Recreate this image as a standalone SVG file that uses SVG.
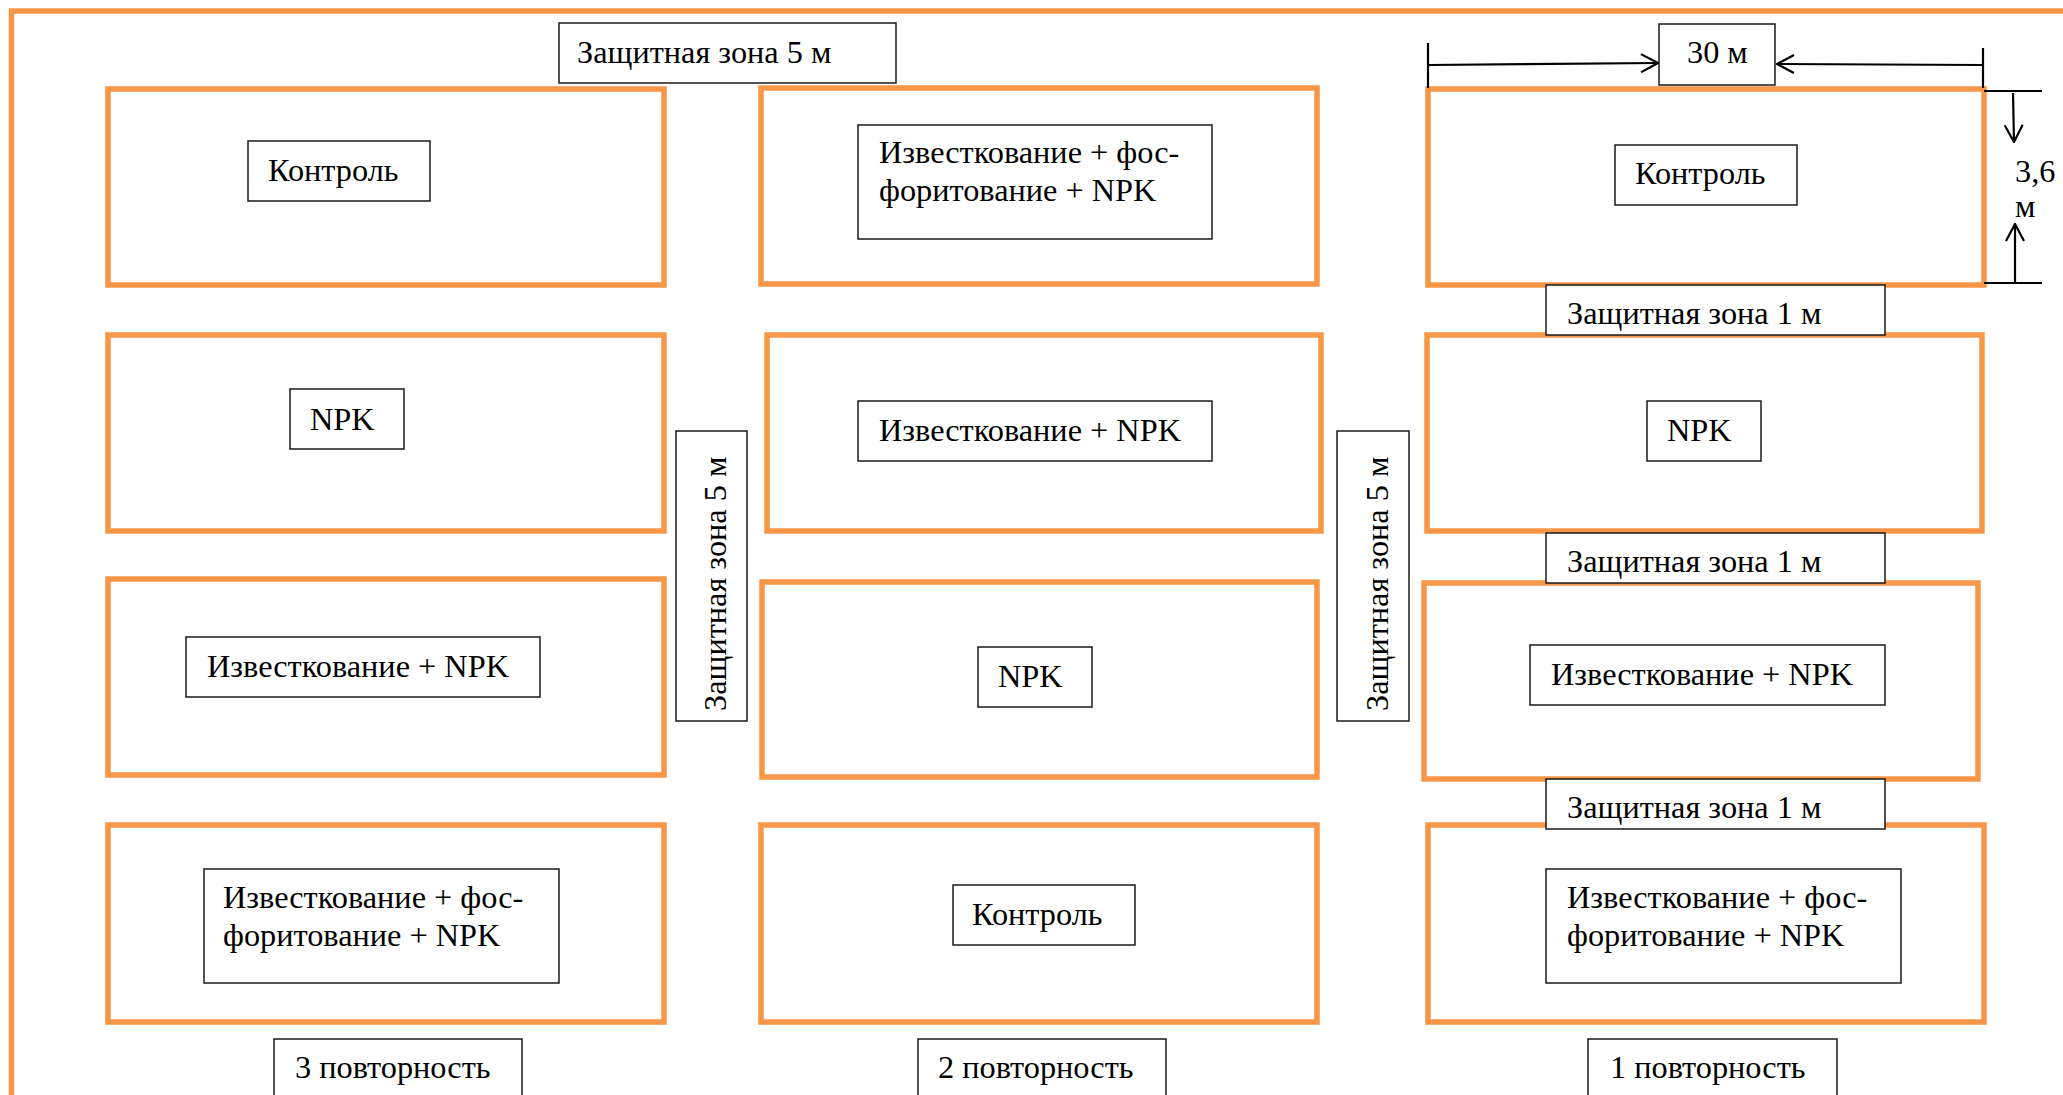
<svg xmlns="http://www.w3.org/2000/svg" width="2063" height="1095" viewBox="0 0 2063 1095">
<style>
.plot{fill:none;stroke:#F79646;stroke-width:5.5}
.box{fill:#fff;stroke:#1a1a1a;stroke-width:1.5}
text{font-family:"Liberation Serif","Times New Roman",serif;font-size:32.3px;fill:#000}
.dim{stroke:#000;stroke-width:2.2;fill:none}
</style>
<defs>
<marker id="arr" viewBox="0 0 20 20" refX="19" refY="10" markerWidth="20" markerHeight="20" markerUnits="userSpaceOnUse" orient="auto">
<path d="M2,1 L19,10 L2,19" fill="none" stroke="#000" stroke-width="2.2"/>
</marker>
</defs>
<rect width="2063" height="1095" fill="#fff"/>
<rect id="frame" x="11.5" y="11" width="2100" height="1200" class="plot"/>

<!-- Column 3 -->
<g id="p3-1"><rect x="108" y="89" width="556" height="196" class="plot"/><rect x="248" y="141" width="182" height="60" class="box"/><text x="268" y="181">Контроль</text></g>
<g id="p3-2"><rect x="108" y="335" width="556" height="196" class="plot"/><rect x="290" y="389" width="114" height="60" class="box"/><text x="310" y="430">NPK</text></g>
<g id="p3-3"><rect x="108" y="579" width="556" height="196" class="plot"/><rect x="186" y="637" width="354" height="60" class="box"/><text x="207" y="677">Известкование + NPK</text></g>
<g id="p3-4"><rect x="108" y="825" width="556" height="197" class="plot"/><rect x="204" y="869" width="355" height="114" class="box"/><text x="223" y="908">Известкование + фос-</text><text x="223" y="946">форитование + NPK</text></g>

<!-- Column 2 -->
<g id="p2-1"><rect x="761" y="88" width="556" height="196" class="plot"/><rect x="858" y="125" width="354" height="114" class="box"/><text x="879" y="163">Известкование + фос-</text><text x="879" y="201">форитование + NPK</text></g>
<g id="p2-2"><rect x="767" y="335" width="554" height="196" class="plot"/><rect x="858" y="401" width="354" height="60" class="box"/><text x="879" y="441">Известкование + NPK</text></g>
<g id="p2-3"><rect x="762" y="582" width="555" height="195" class="plot"/><rect x="978" y="647" width="114" height="60" class="box"/><text x="998" y="687">NPK</text></g>
<g id="p2-4"><rect x="761" y="825" width="556" height="197" class="plot"/><rect x="953" y="885" width="182" height="60" class="box"/><text x="972" y="925">Контроль</text></g>

<!-- Column 1 -->
<g id="p1-1"><rect x="1428" y="89" width="556" height="196" class="plot"/><rect x="1615" y="145" width="182" height="60" class="box"/><text x="1635" y="184">Контроль</text></g>
<g id="p1-2"><rect x="1427" y="335" width="555" height="196" class="plot"/><rect x="1647" y="401" width="114" height="60" class="box"/><text x="1667" y="441">NPK</text></g>
<g id="p1-3"><rect x="1424" y="583" width="554" height="196" class="plot"/><rect x="1530" y="645" width="355" height="60" class="box"/><text x="1551" y="685">Известкование + NPK</text></g>
<g id="p1-4"><rect x="1428" y="825" width="556" height="197" class="plot"/><rect x="1546" y="869" width="355" height="114" class="box"/><text x="1567" y="908">Известкование + фос-</text><text x="1567" y="946">форитование + NPK</text></g>

<!-- Protective zones -->
<g id="zone5-top"><rect x="559" y="23" width="337" height="60" class="box"/><text x="577" y="63">Защитная зона 5 м</text></g>
<g id="zone5-v1"><rect x="676" y="431" width="71" height="290" class="box"/><text transform="translate(726,711) rotate(-90)">Защитная зона 5 м</text></g>
<g id="zone5-v2"><rect x="1337" y="431" width="72" height="290" class="box"/><text transform="translate(1388,711) rotate(-90)">Защитная зона 5 м</text></g>
<g id="zone1-a"><rect x="1546" y="285" width="339" height="50" class="box"/><text x="1567" y="324">Защитная зона 1 м</text></g>
<g id="zone1-b"><rect x="1546" y="533" width="339" height="50" class="box"/><text x="1567" y="572">Защитная зона 1 м</text></g>
<g id="zone1-c"><rect x="1546" y="779" width="339" height="50" class="box"/><text x="1567" y="818">Защитная зона 1 м</text></g>

<!-- Replicates -->
<g id="rep3"><rect x="274" y="1039" width="248" height="80" class="box"/><text x="295" y="1078">3 повторность</text></g>
<g id="rep2"><rect x="918" y="1039" width="248" height="80" class="box"/><text x="938" y="1078">2 повторность</text></g>
<g id="rep1"><rect x="1588" y="1039" width="249" height="80" class="box"/><text x="1610" y="1078">1 повторность</text></g>

<!-- Dimension labels -->
<g id="dim-30"><rect x="1659" y="24" width="116" height="61" class="box"/><text x="1687" y="63">30 м</text></g>
<g id="dim-36"><text x="2015" y="182">3,6</text><text x="2015" y="217">м</text></g>

<g id="connectors">
<line x1="1428" y1="43" x2="1428" y2="88" class="dim"/>
<line x1="1983" y1="48" x2="1983" y2="88" class="dim"/>
<line x1="1428" y1="65" x2="1658" y2="63" class="dim" marker-end="url(#arr)"/>
<line x1="1983" y1="65" x2="1777" y2="64" class="dim" marker-end="url(#arr)"/>
<line x1="1984" y1="91" x2="2042" y2="91" class="dim"/>
<line x1="1984" y1="283" x2="2042" y2="283" class="dim"/>
<line x1="2013" y1="93" x2="2014" y2="142" class="dim" marker-end="url(#arr)"/>
<line x1="2015" y1="283" x2="2015" y2="224" class="dim" marker-end="url(#arr)"/>
</g>
</svg>
